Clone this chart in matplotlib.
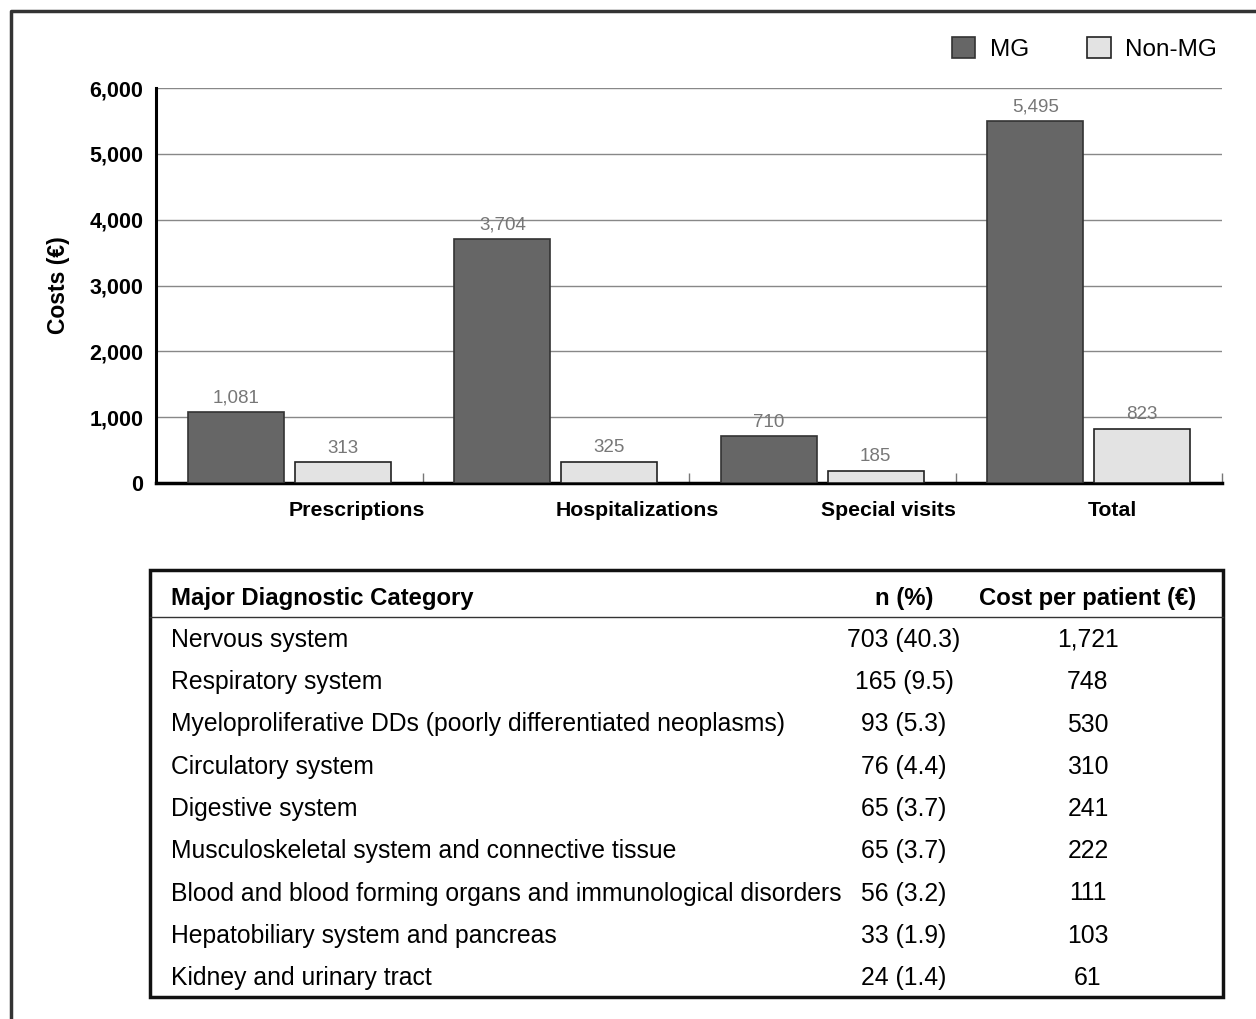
import matplotlib
matplotlib.use("Agg")
import matplotlib.pyplot as plt
import numpy as np

plt.rcParams["font.family"] = ["Liberation Sans", "DejaVu Sans"]

# Cost components per patient (EUR)
categories = ["Prescriptions", "Hospitalizations", "Special visits", "Total"]
mg_costs = [1081, 3704, 710, 5495]
non_mg_costs = [313, 325, 185, 823]
# label positions within each group (in group units)
label_offsets = [0.755, 0.805, 0.75, 0.59]

# Costs by major diagnostic category
mdc_names = [
    "Nervous system",
    "Respiratory system",
    "Myeloproliferative DDs (poorly differentiated neoplasms)",
    "Circulatory system",
    "Digestive system",
    "Musculoskeletal system and connective tissue",
    "Blood and blood forming organs and immunological disorders",
    "Hepatobiliary system and pancreas",
    "Kidney and urinary tract",
]
mdc_n = [703, 165, 93, 76, 65, 65, 56, 33, 24]
mdc_pct = [40.3, 9.5, 5.3, 4.4, 3.7, 3.7, 3.2, 1.9, 1.4]
mdc_cost = [1721, 748, 530, 310, 241, 222, 111, 103, 61]

W, H = 1256, 1019
fig = plt.figure(figsize=(W / 100, H / 100), dpi=100, facecolor="white")

# background canvas in pixel coordinates for the frame and the table
bg = fig.add_axes([0, 0, 1, 1])
bg.set_xlim(0, W)
bg.set_ylim(H, 0)
bg.axis("off")
bg.plot([11, 11, W + 5], [H + 5, 11, 11], color="#333333", lw=2.5, solid_capstyle="butt")

# bar chart
ax = fig.add_axes([156 / W, 1 - 483 / H, 1066 / W, (483 - 88) / H])
x = np.arange(len(categories))
bw = 0.36
ax.bar(x + 0.12, mg_costs, bw, align="edge", color="#666666", edgecolor="#333333",
       linewidth=1.2, label="MG", zorder=3)
ax.bar(x + 0.52, non_mg_costs, bw, align="edge", color="#e3e3e3", edgecolor="#222222",
       linewidth=1.2, label="Non-MG", zorder=3)
for xi, v in zip(x + 0.12 + bw / 2, mg_costs):
    ax.annotate(f"{v:,}", (xi, v), xytext=(0, 4), textcoords="offset points",
                ha="center", va="bottom", fontsize=13.5, color="#777777")
for xi, v in zip(x + 0.52 + bw / 2, non_mg_costs):
    ax.annotate(f"{v:,}", (xi, v), xytext=(0, 4), textcoords="offset points",
                ha="center", va="bottom", fontsize=13.5, color="#777777")

ax.set_xlim(0, len(categories))
ax.set_ylim(0, 6000)
ax.set_yticks(np.arange(0, 6001, 1000))
ax.set_yticklabels([f"{v:,}" for v in range(0, 6001, 1000)], fontsize=15.5, fontweight="bold")
ax.tick_params(axis="y", length=0, pad=9)
ax.set_xticks(x + np.array(label_offsets))
ax.set_xticklabels(categories, fontsize=15.3, fontweight="bold")
ax.tick_params(axis="x", which="major", length=0, pad=13)
ax.set_xticks(x[1:].tolist() + [len(categories)], minor=True)
ax.tick_params(axis="x", which="minor", direction="in", length=7, width=1, color="#777777")
ax.grid(True, axis="y", color="#888888", lw=1, zorder=0)
for s in ["top", "right"]:
    ax.spines[s].set_visible(False)
ax.spines["left"].set_linewidth(2.2)
ax.spines["bottom"].set_linewidth(2.5)
ax.set_ylabel("Costs (€)", fontsize=16.5, fontweight="bold", labelpad=14)

fig.legend(loc="upper right", bbox_to_anchor=(1217 / W, 1 - 37 / H), ncol=2, frameon=False,
           fontsize=17.5, handlelength=0.95, handleheight=0.95, handletextpad=0.6,
           columnspacing=2.4, borderpad=0, borderaxespad=0)

# table
tl, tr, tt, tb = 150, 1223, 570, 997
bg.add_patch(plt.Rectangle((tl, tt), tr - tl, tb - tt, fill=False, lw=2.5, edgecolor="#111111"))
bg.plot([tl, tr], [617, 617], color="#333333", lw=1)
col_name_x, col_n_x, col_cost_x = 171, 904, 1088
bg.text(col_name_x, 598, "Major Diagnostic Category", fontsize=17.2, fontweight="bold", va="center")
bg.text(col_n_x, 598, "n (%)", fontsize=17.2, fontweight="bold", va="center", ha="center")
bg.text(col_cost_x, 598, "Cost per patient (€)", fontsize=17.2, fontweight="bold", va="center", ha="center")
row_y = 640
for name, n, pct, cost in zip(mdc_names, mdc_n, mdc_pct, mdc_cost):
    bg.text(col_name_x, row_y, name, fontsize=17.8, va="center")
    bg.text(col_n_x, row_y, f"{n} ({pct})", fontsize=17.8, va="center", ha="center")
    bg.text(col_cost_x, row_y, f"{cost:,}", fontsize=17.8, va="center", ha="center")
    row_y += 42.25

fig.savefig("out.png", dpi=100, facecolor="white")
